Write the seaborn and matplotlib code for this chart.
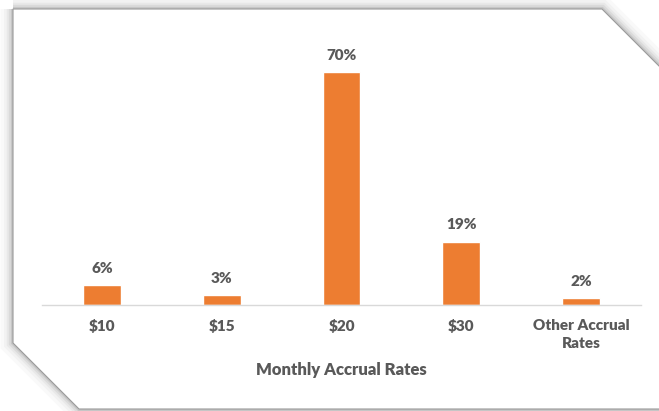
import matplotlib
matplotlib.use("Agg")
import matplotlib.pyplot as plt
from matplotlib.patches import Polygon
import seaborn as sns
import pandas as pd

# Share of employees by monthly accrual rate
categories = ["$10", "$15", "$20", "$30", "Other Accrual\nRates"]
shares = [6, 3, 70, 19, 2]
value_labels = ["6%", "3%", "70%", "19%", "2%"]
x_title = "Monthly Accrual Rates"

BAR_COLOR = "#ED7D31"
TEXT_COLOR = "#595959"
AXIS_COLOR = "#D9D9D9"

W, H = 659, 411
sns.set_theme(style="white")
plt.rcParams["font.family"] = ["Lato", "DejaVu Sans"]

fig = plt.figure(figsize=(W / 100, H / 100), dpi=100, facecolor="white")


def px(x, y):
    """Pixel position (origin top-left) -> figure fraction."""
    return (x / W, 1 - y / H)


# Card with two clipped corners and a soft drop shadow
card_pts = [(13, 9), (602, 9), (670, 77), (670, 409), (79, 409), (13, 343)]
frac_pts = [px(x, y) for x, y in card_pts]

for lw, a in [(18, 0.03), (13, 0.04), (9, 0.06), (6, 0.09), (3, 0.14)]:
    fig.add_artist(Polygon(frac_pts, closed=True, transform=fig.transFigure,
                           facecolor="none", edgecolor="#505050", lw=lw,
                           alpha=a, joinstyle="miter", zorder=0))
fig.add_artist(Polygon(frac_pts, closed=True, transform=fig.transFigure,
                       facecolor="white", edgecolor="#999999", lw=0.8,
                       joinstyle="miter", zorder=1))

# Plot area: x axis from 42 to 641 px, baseline at 305 px
ymax = 80
px_per_unit = 233 / 70
top_px = 305 - ymax * px_per_unit
l, b = px(42, 305)
r, t = px(641, top_px)
ax = fig.add_axes([l, b, r - l, t - b], zorder=2)
ax.patch.set_alpha(0)

df = pd.DataFrame({"category": categories, "share": shares})
sns.barplot(data=df, x="category", y="share", color=BAR_COLOR,
            saturation=1, width=0.317, ax=ax)

ax.set_xlim(-0.5, len(categories) - 0.5)
ax.set_ylim(0, ymax)

for i, (v, lab) in enumerate(zip(shares, value_labels)):
    ax.annotate(lab, (i, v), xytext=(0, 7.5), textcoords="offset points",
                ha="center", va="bottom", fontsize=11, fontweight="heavy",
                color=TEXT_COLOR)

for side in ["top", "right", "left"]:
    ax.spines[side].set_visible(False)
ax.spines["bottom"].set_color(AXIS_COLOR)
ax.spines["bottom"].set_linewidth(1.0)
ax.set_yticks([])
ax.set_ylabel("")

ax.set_xticks(range(len(categories)))
ax.set_xticklabels(categories, fontsize=11, fontweight="heavy",
                   color=TEXT_COLOR, linespacing=1.45)
ax.tick_params(axis="x", which="major", length=0, pad=10)
ax.set_xticks([i - 0.5 for i in range(len(categories) + 1)], minor=True)
ax.tick_params(axis="x", which="minor", length=5, width=1,
               color=AXIS_COLOR, direction="out")

ax.set_xlabel(x_title, fontsize=12, fontweight="heavy", color=TEXT_COLOR,
              labelpad=9)

fig.savefig("out.png", dpi=100, facecolor="white")
